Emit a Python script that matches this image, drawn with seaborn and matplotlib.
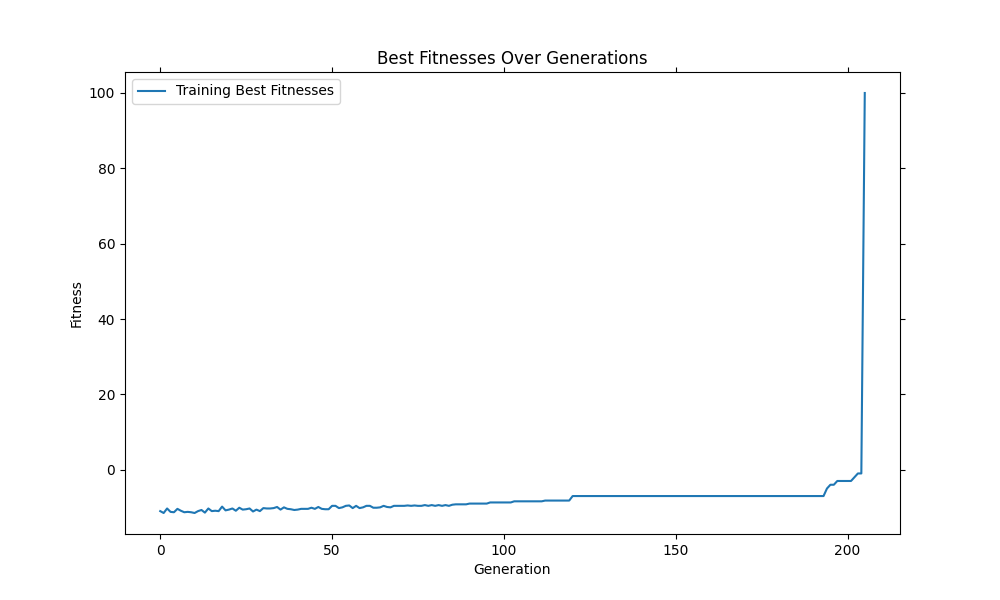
import matplotlib
matplotlib.use("Agg")
import matplotlib.pyplot as plt
import seaborn as sns
import pandas as pd

fitness = [
 -11.0,-11.5,-10.3,-11.2,-11.3,-10.4,-10.9,-11.3,-11.2,-11.3,
 -11.5,-11.0,-10.7,-11.4,-10.3,-11.0,-10.9,-11.0,-9.8,-10.8,
 -10.6,-10.3,-10.9,-10.1,-10.6,-10.5,-10.3,-11.1,-10.6,-11.0,
 -10.2,-10.3,-10.3,-10.2,-9.9,-10.6,-10.0,-10.4,-10.5,-10.7,
 -10.6,-10.4,-10.4,-10.4,-10.1,-10.4,-9.9,-10.4,-10.5,-10.5,
 -9.6,-9.6,-10.2,-10.0,-9.6,-9.5,-10.2,-9.6,-10.2,-10.0,
 -9.6,-9.6,-10.1,-10.1,-10.0,-9.6,-9.9,-10.0,-9.6,-9.6,
 -9.6,-9.6,-9.5,-9.6,-9.5,-9.6,-9.6,-9.4,-9.6,-9.4,
 -9.6,-9.4,-9.6,-9.4,-9.6,-9.3,-9.2,-9.2,-9.2,-9.2,
 -9.0,-9.0,-9.0,-9.0,-9.0,-9.0,-8.7,-8.7,-8.7,-8.7,
 -8.7,-8.7,-8.7,-8.4,-8.4,-8.4,-8.4,-8.4,-8.4,-8.4,
 -8.4,-8.4,-8.2,-8.2,-8.2,-8.2,-8.2,-8.2,-8.2,-8.2,
] + [-7.0] * 74 + [-5.0, -4.0, -4.0, -3.0, -3.0, -3.0, -3.0, -3.0, -2.0, -1.0, -1.0, 100.0]
generations = list(range(len(fitness)))

df = pd.DataFrame({"Generation": generations, "Fitness": fitness})

fig, ax = plt.subplots(figsize=(10, 6), dpi=100)
sns.lineplot(data=df, x="Generation", y="Fitness", ax=ax, color="#1f77b4",
             label="Training Best Fitnesses")
ax.set_title("Best Fitnesses Over Generations")
ax.set_xlabel("Generation")
ax.set_ylabel("Fitness")
ax.tick_params(top=True, right=True, direction="out")
ax.legend(loc="upper left")
fig.savefig("out.png")
